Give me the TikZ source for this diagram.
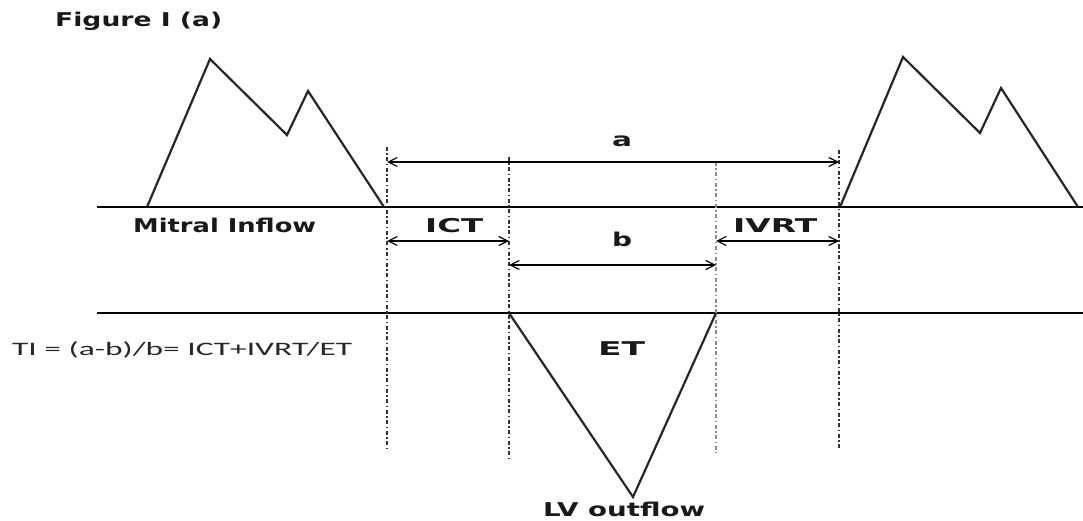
\documentclass[tikz,border=0pt]{standalone}
\usepackage{fontspec}
\usepackage{graphicx}
\usetikzlibrary{arrows.meta}
\newfontfamily\lblfont{DejaVu Sans}
\newfontfamily\formfont{Carlito}
\newcommand\fitw[2]{\resizebox{#1}{\height}{#2}}
\tikzset{
  wave/.style={line width=2.2pt, black!85, line join=miter},
  baseln/.style={line width=1.5pt, black},
  guide/.style={line width=1.8pt, black!80, dash pattern=on 4pt off 2.5pt on 1.5pt off 2.5pt},
  guidegray/.style={guide, black!45},
  dim/.style={line width=1.2pt, black, {Straight Barb[length=9pt,width=9pt]}-{Straight Barb[length=9pt,width=9pt]}},
  lbl/.style={inner sep=0pt, anchor=base west, font=\lblfont\bfseries\fontsize{19}{22}\selectfont, text=black!90},
  form/.style={inner sep=0pt, anchor=base west, font=\formfont\fontsize{19}{22}\selectfont, text=black!85}
}
\begin{document}
\begin{tikzpicture}[x=1pt,y=-1pt]
\useasboundingbox (0,0) rectangle (1083,521);
% coordinates
\coordinate (L1a) at (97,207);
\coordinate (L1b) at (1083,207);
\coordinate (L2a) at (97,313);
\coordinate (L2b) at (1083,313);
\coordinate (v1t) at (387,147); \coordinate (v1b) at (387,448);
\coordinate (v2t) at (509,157); \coordinate (v2b) at (509,459);
\coordinate (v3t) at (716,162); \coordinate (v3b) at (716,453);
\coordinate (v4t) at (839,150); \coordinate (v4b) at (839,448);
\coordinate (a1) at (387,162); \coordinate (a2) at (839,162);
\coordinate (ict1) at (387,241); \coordinate (ict2) at (509,241);
\coordinate (ivrt1) at (716,241); \coordinate (ivrt2) at (839,241);
\coordinate (b1) at (509,265); \coordinate (b2) at (716,265);
% baselines
\draw[baseln] (L1a) -- (L1b);
\draw[baseln] (L2a) -- (L2b);
% guides
\draw[guide] (v1t) -- (v1b);
\draw[guide] (v2t) -- (v2b);
\draw[guidegray] (v3t) -- (v3b);
\draw[guide] (v4t) -- (v4b);
% waves
\draw[wave] (147,207) -- (210,59) -- (287,135) -- (308,91) -- (384,207);
\draw[wave] (840,207) -- (903,57) -- (980,133) -- (1001,88) -- (1078,207);
\draw[wave] (509,313) -- (633,497) -- (716,313);
% dimension arrows
\draw[dim] (a1) -- (a2);
\draw[dim] (ict1) -- (ict2);
\draw[dim] (ivrt1) -- (ivrt2);
\draw[dim] (b1) -- (b2);
% labels
\node[lbl] (title) at (55,27) {\fitw{167pt}{Figure I (a)}};
\node[lbl] (mitral) at (133,233) {\fitw{183pt}{Mitral Inflow}};
\node[lbl] (ict) at (425,233) {\fitw{58pt}{ICT}};
\node[lbl] (ivrt) at (733,233) {\fitw{84pt}{IVRT}};
\node[lbl] (la) at (612,147) {\fitw{20pt}{a}};
\node[lbl] (lb) at (612,247) {\fitw{20pt}{b}};
\node[lbl] (et) at (598,355) {\fitw{47pt}{ET}};
\node[lbl] (lv) at (543,516) {\fitw{162pt}{LV outflow}};
\node[form] (ti) at (12,355) {\fitw{340pt}{TI = (a-b)/b= ICT+IVRT/ET}};
\end{tikzpicture}
\end{document}
